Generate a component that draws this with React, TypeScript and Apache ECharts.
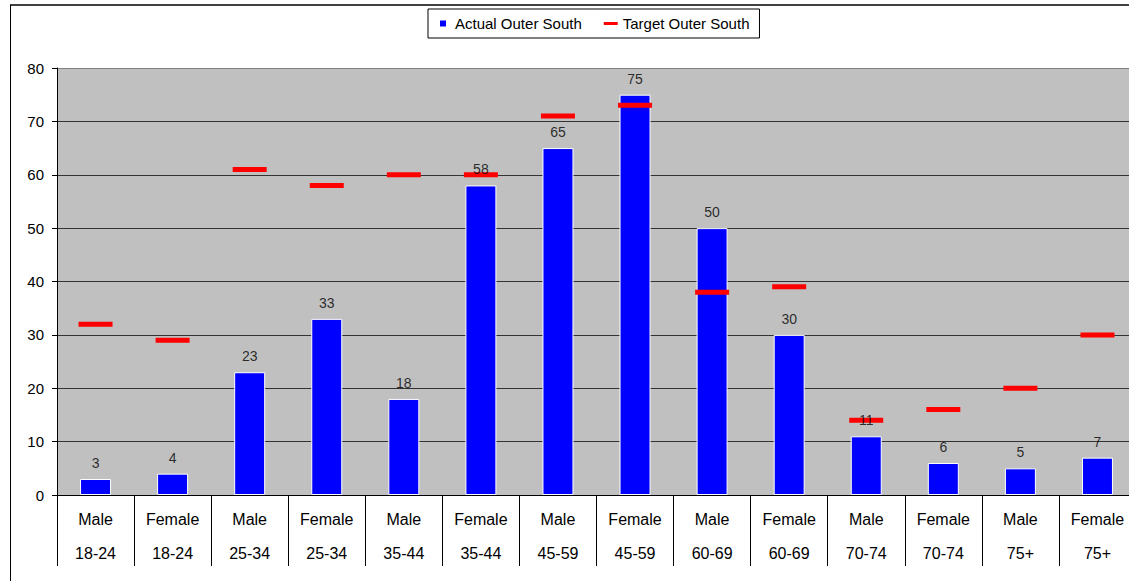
import React, { useEffect, useRef } from "react";
import * as echarts from "echarts";

const genders = ["Male", "Female", "Male", "Female", "Male", "Female", "Male", "Female", "Male", "Female", "Male", "Female", "Male", "Female"];
const ages = ["18-24", "18-24", "25-34", "25-34", "35-44", "35-44", "45-59", "45-59", "60-69", "60-69", "70-74", "70-74", "75+", "75+"];
const actualValues = [3, 4, 23, 33, 18, 58, 65, 75, 50, 30, 11, 6, 5, 7];
const targetValues = [32, 29, 61, 58, 60, 60, 71, 73, 38, 39, 14, 16, 20, 30];
const yMin = 0;
const yMax = 80;
const yInterval = 10;

const FONT = "'Liberation Sans', Arial, sans-serif";

export default function App() {
  const ref = useRef<HTMLDivElement>(null);

  useEffect(() => {
    if (!ref.current) return;
    const chart = echarts.init(ref.current, null, { renderer: "svg" });
    const categories = genders.map((g, i) => `${g}\n${ages[i]}`);
    const nLines = (yMax - yMin) / yInterval + 1;
    const splitColors = Array.from({ length: nLines }, (_, i) => (i === nLines - 1 ? "#808080" : "#333333"));

    chart.setOption({
      animation: false,
      backgroundColor: "#ffffff",
      textStyle: { fontFamily: FONT, color: "#000" },
      graphic: [
        { type: "line", shape: { x1: 10, y1: 5, x2: 1129, y2: 5 }, style: { stroke: "#000", lineWidth: 1.5 }, z: 10 },
        { type: "line", shape: { x1: 10.5, y1: 5, x2: 10.5, y2: 581 }, style: { stroke: "#000", lineWidth: 1 }, z: 10 },
      ],
      legend: {
        left: 428,
        top: 9,
        padding: [7, 10, 7, 10],
        borderColor: "#000",
        borderWidth: 1,
        itemWidth: 14,
        itemHeight: 8,
        itemGap: 22,
        textStyle: { fontSize: 15, fontFamily: FONT, color: "#000" },
        data: [
          { name: "Actual Outer South", icon: "path://M0,0h7v7h-7z", itemStyle: { color: "#0000FF", opacity: 1 } },
          { name: "Target Outer South", icon: "path://M0,0h14v3h-14z", itemStyle: { color: "#FF0000", opacity: 1 } },
        ],
      },
      grid: {
        left: 57,
        top: 68,
        width: 1079,
        bottom: 86,
        outerBoundsMode: "none",
        containLabel: false,
        show: true,
        backgroundColor: "#C0C0C0",
        borderWidth: 0,
      },
      xAxis: {
        type: "category",
        data: categories,
        boundaryGap: true,
        axisLine: { show: true, lineStyle: { color: "#000", width: 1 } },
        axisTick: { show: true, length: 71, interval: 0, lineStyle: { color: "#000", width: 1 } },
        axisLabel: {
          interval: 0,
          margin: 7,
          lineHeight: 34,
          fontSize: 16,
          fontFamily: FONT,
          color: "#000",
        },
        splitLine: { show: false },
      },
      yAxis: {
        type: "value",
        min: yMin,
        max: yMax,
        interval: yInterval,
        axisLine: { show: true, lineStyle: { color: "#000", width: 1 } },
        axisTick: { show: true, length: 5, lineStyle: { color: "#000" } },
        axisLabel: { margin: 13, fontSize: 15, fontFamily: FONT, color: "#000" },
        splitLine: { show: true, lineStyle: { color: splitColors, width: 1 } },
      },
      series: [
        {
          name: "Actual Outer South",
          type: "bar",
          data: actualValues,
          barWidth: 31,
          itemStyle: { color: "#0000FF", borderColor: "#ffffff", borderWidth: 1 },
          z: 2,
        },
        {
          name: "Target Outer South",
          type: "scatter",
          data: targetValues,
          symbol: "rect",
          symbolSize: [34, 5],
          itemStyle: { color: "#FF0000", opacity: 1 },
          z: 3,
        },
        {
          name: "labels",
          type: "scatter",
          data: actualValues,
          symbolSize: 0,
          silent: true,
          itemStyle: { color: "transparent" },
          label: {
            show: true,
            position: "top",
            distance: 9,
            fontSize: 14,
            fontFamily: FONT,
            color: "#000",
          },
          z: 5,
        },
      ],
    });
    return () => chart.dispose();
  }, []);

  return (
    <div
      ref={ref}
      style={{ position: "absolute", left: 0, top: 0, width: 1129, height: 581 }}
    />
  );
}
